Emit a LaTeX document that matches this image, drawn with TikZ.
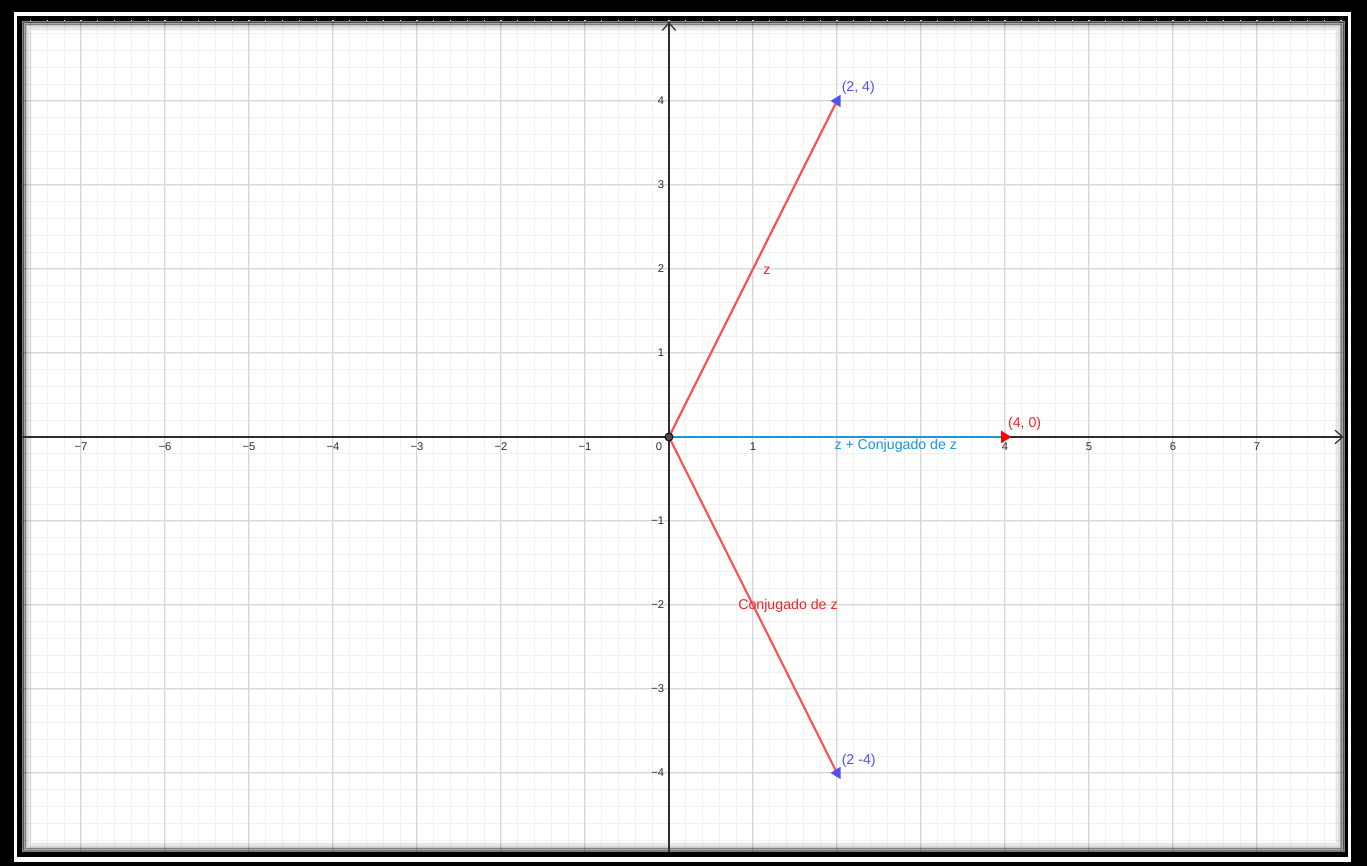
\documentclass[tikz,border=0pt]{standalone}
\usepackage{fontspec}
\setmainfont{Liberation Sans}
\usetikzlibrary{arrows.meta}
\definecolor{vecred}{RGB}{250,85,85}
\definecolor{labred}{RGB}{245,35,35}
\definecolor{sumblue}{RGB}{25,150,225}
\definecolor{ptblue}{RGB}{80,80,245}
\definecolor{axiscol}{RGB}{45,45,45}
\definecolor{minorgrid}{RGB}{240,240,240}
\definecolor{majorgrid}{RGB}{214,214,214}
\tikzset{
  minorline/.style={draw=minorgrid,line width=0.3pt},
  majorline/.style={draw=majorgrid,line width=0.35pt},
  axisline/.style={draw=axiscol,line width=0.4pt,-{Straight Barb[length=0.9mm,width=1.6mm]}},
  vec/.style={draw=vecred,line width=0.75pt},
  sumvec/.style={draw=sumblue,line width=0.75pt},
  ticklab/.style={font=\fontsize{3.8}{4.5}\selectfont,text=axiscol,inner sep=0pt},
  lab/.style={font=\fontsize{4.8}{5.8}\selectfont,inner sep=0pt},
  dot/.style={circle,fill=axiscol!85,draw=black,line width=0.3pt,minimum size=0.095cm,inner sep=0pt}
}
\begin{document}
\begin{tikzpicture}[x=1cm,y=1cm]
\useasboundingbox (-7.964,-5.107) rectangle (8.310,5.202);
% frame
\fill[black] (-7.964,-5.107) rectangle (8.310,5.202);
\fill[white] (-7.798,-5.060) rectangle (8.119,5.060);
\fill[black] (-7.762,-5.0) rectangle (8.083,5.012);
\fill[white] (-7.702,-4.940) rectangle (8.048,4.952);
\begin{scope}
\clip (-7.702,-4.940) rectangle (8.048,4.952);
\draw[minorline] (-8,-5) grid[step=0.2] (8.2,5);
\draw[majorline] (-8,-5) grid[step=1] (8.2,5);
% inner shadow
\foreach \d/\o in {0.01/0.5,0.03/0.35,0.05/0.22,0.07/0.13,0.09/0.07,0.11/0.03}{
  \draw[black,opacity=\o,line width=0.7pt] (-7.702+\d,-4.940+\d) rectangle (8.048-\d,4.952-\d);
}
\end{scope}
% axes
\coordinate (xl) at (-7.702,0);
\coordinate (xr) at (8.03,0);
\coordinate (yb) at (0,-4.940);
\coordinate (yt) at (0,4.94);
\draw[axisline] (xl) -- (xr);
\draw[axisline] (yb) -- (yt);
% tick labels
\foreach \i in {-7,...,-1}{
  \node[ticklab] (tx\i) at (\i,-0.12) {−\the\numexpr-\i\relax};
}
\foreach \i in {-4,...,-1}{
  \node[ticklab,anchor=east] (ty\i) at (-0.05,\i) {−\the\numexpr-\i\relax};
}
\foreach \i in {1,4,5,6,7}{
  \node[ticklab] (tx\i) at (\i,-0.12) {\i};
}
\foreach \i in {1,...,4}{
  \node[ticklab,anchor=east] (ty\i) at (-0.05,\i) {\i};
}
\node[ticklab] (t0) at (-0.12,-0.12) {0};
% points
\coordinate (O) at (0,0);
\coordinate (A) at (2,4);
\coordinate (B) at (2,-4);
\coordinate (C) at (4,0);
% vectors
\draw[sumvec] (O) -- (C);
\draw[vec] (O) -- (A);
\draw[vec] (O) -- (B);
% point markers
\fill[ptblue,shift={(A)}] (-0.075,0) -- (0.045,0.075) -- (0.045,-0.075) -- cycle;
\fill[ptblue,shift={(B)}] (-0.075,0) -- (0.045,0.075) -- (0.045,-0.075) -- cycle;
\fill[red,shift={(C)}] (0.075,0) -- (-0.045,0.075) -- (-0.045,-0.075) -- cycle;
\node[dot] (Odot) at (O) {};
% labels
\node[lab,text=ptblue,anchor=west] (lA) at (2.05,4.155) {(2, 4)};
\node[lab,text=ptblue,anchor=west] (lB) at (2.05,-3.857) {(2 -4)};
\node[lab,text=labred,anchor=west] (lC) at (4.03,0.155) {(4, 0)};
\node[lab,text=labred] (lz) at (1.167,1.976) {z};
\node[lab,text=labred] (lconj) at (1.417,-2.012) {Conjugado de z};
\node[lab,text=sumblue] (lsum) at (2.70,-0.107) {z + Conjugado de z};
\end{tikzpicture}
\end{document}
